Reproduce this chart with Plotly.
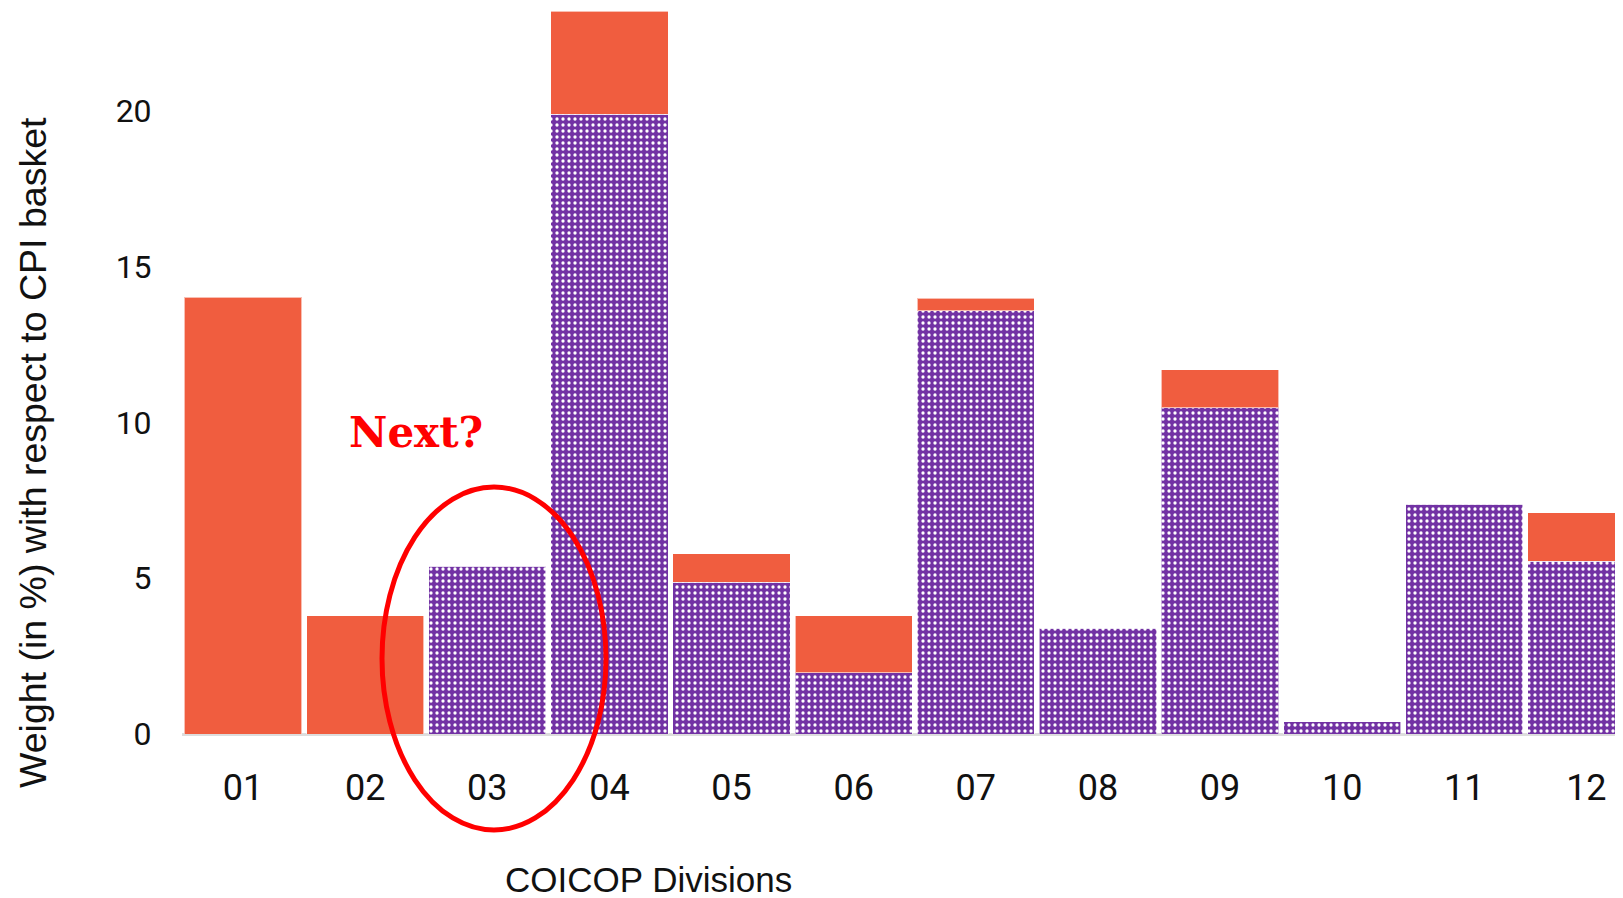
import plotly.graph_objects as go

categories = ["01", "02", "03", "04", "05", "06", "07", "08", "09", "10", "11", "12"]
x_pos = [1, 2, 3, 4, 5, 6, 7, 8, 9, 10, 11, 12]
purple_vals = [0.0, 0.0, 5.38, 19.9, 4.88, 1.96, 13.59, 3.39, 10.47, 0.4, 7.38, 5.55]
orange_vals = [14.02, 3.79, 0.0, 3.3, 0.9, 1.83, 0.4, 0.0, 1.22, 0.0, 0.0, 1.56]
y_ticks = [0, 5, 10, 15, 20]

PURPLE = "#7232A4"
ORANGE = "#F05D3F"

# page offset of 8px (body margin): plot area spans page x 182..1623, page y 8..734
def px(page_x):
    return (page_x - 182) / 1441

def py(page_y):
    return (734 - page_y) / 726

fig = go.Figure()
fig.add_trace(go.Bar(
    x=x_pos, y=purple_vals, name="purple",
    marker=dict(color=PURPLE,
                line=dict(color="rgba(255,255,255,0.6)", width=1),
                pattern=dict(shape=".", bgcolor=PURPLE, fgcolor="white",
                             fgopacity=1, size=6, solidity=0.24, fillmode="overlay")),
))
fig.add_trace(go.Bar(
    x=x_pos, y=orange_vals, name="orange",
    marker=dict(color=ORANGE, line=dict(color="rgba(255,255,255,0.6)", width=1)),
))

fig.update_layout(
    width=1615, height=890,
    barmode="stack", bargap=0.04,
    showlegend=False,
    plot_bgcolor="white", paper_bgcolor="white",
    margin=dict(l=174, r=0, t=0, b=164),
    font=dict(family="Roboto", color="#111111"),
)
fig.update_xaxes(
    range=[0.5, 12.30], tickmode="array", tickvals=x_pos, ticktext=categories,
    tickfont=dict(size=36, family="Roboto"), showgrid=False, zeroline=False,
    showline=False, ticks="outside", ticklen=22, tickcolor="rgba(0,0,0,0)",
)
fig.update_yaxes(
    range=[0, 23.31], tickmode="array", tickvals=y_ticks,
    tickfont=dict(size=32, family="Roboto"), showgrid=False,
    zeroline=True, zerolinecolor="#dddddd", zerolinewidth=3,
    showline=False, ticks="outside", ticklen=23, tickcolor="rgba(0,0,0,0)",
)

fig.add_annotation(xref="paper", yref="paper", x=px(648), y=py(879),
                   text="COICOP Divisions", showarrow=False,
                   font=dict(size=35, family="Liberation Sans", color="#111111"),
                   xanchor="center", yanchor="middle")
fig.add_annotation(xref="paper", yref="paper", x=px(33), y=py(453),
                   text="Weight (in %) with respect to CPI basket", showarrow=False,
                   textangle=-90,
                   font=dict(size=37.5, family="Liberation Sans", color="#111111"),
                   xanchor="center", yanchor="middle")
fig.add_annotation(xref="paper", yref="paper", x=px(416), y=py(432),
                   text="<b>Next?</b>", showarrow=False,
                   font=dict(size=42, family="DejaVu Serif", color="#FF0000"),
                   xanchor="center", yanchor="middle")
fig.add_shape(type="circle", xref="paper", yref="paper",
              x0=px(382), x1=px(606), y0=py(830), y1=py(487),
              line=dict(color="#FF0000", width=5), layer="above")

fig.write_html("out.html")
